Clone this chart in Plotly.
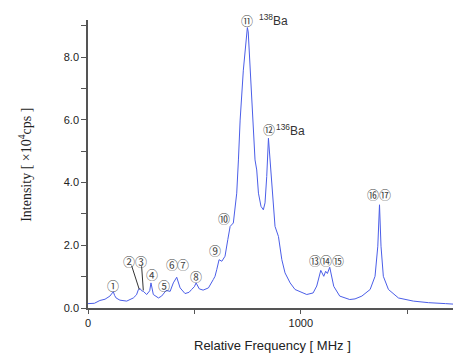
import plotly.graph_objects as go

# Spectrum (MHz, x10^4 cps)
freq = [0, 30, 56, 80, 103, 112, 119, 125, 132, 150, 182, 213, 228, 237, 245, 252, 260, 276,
        290, 296, 302, 307, 331, 346, 358, 367, 386, 401, 417, 425, 433, 456, 475, 487, 500,
        508, 515, 523, 541, 566, 589, 597, 605, 613, 616, 629, 644, 657, 668, 683, 699, 707,
        715, 730, 745, 749, 753, 762, 777, 785, 793, 801, 813, 824, 832, 840, 848, 856, 860,
        866, 879, 895, 911, 926, 950, 973, 1000, 1028, 1058, 1075, 1094, 1108, 1117, 1125,
        1136, 1145, 1155, 1183, 1230, 1255, 1287, 1326, 1349, 1362, 1370, 1377, 1388, 1412,
        1459, 1529, 1600, 1680, 1749]
intensity = [0.14, 0.15, 0.24, 0.28, 0.38, 0.45, 0.52, 0.40, 0.32, 0.25, 0.22, 0.32, 0.42, 0.59,
             0.62, 0.55, 0.53, 0.43, 0.55, 0.80, 0.55, 0.43, 0.32, 0.38, 0.48, 0.56, 0.53, 0.80,
             0.98, 0.80, 0.64, 0.46, 0.50, 0.59, 0.68, 0.80, 0.70, 0.61, 0.57, 0.64, 0.91, 1.01,
             1.22, 1.52, 1.54, 1.49, 1.65, 2.18, 2.60, 2.71, 3.66, 4.72, 5.99, 7.58, 8.85, 8.94,
             8.80, 7.58, 5.99, 4.72, 4.40, 3.66, 3.24, 3.13, 3.35, 4.19, 5.41, 4.72, 4.40, 3.66,
             2.60, 2.28, 1.54, 1.12, 0.80, 0.59, 0.52, 0.43, 0.48, 0.70, 1.20, 1.01, 1.17, 1.10,
             1.30, 1.00, 0.69, 0.38, 0.27, 0.29, 0.38, 0.59, 1.01, 1.97, 3.29, 1.97, 1.01, 0.59,
             0.32, 0.22, 0.17, 0.14, 0.11]

# Peak labels (text, x, y)
label_text = ["①", "②", "③", "④", "⑤", "⑥", "⑦", "⑧", "⑨", "⑩", "⑪", "⑫", "⑬", "⑭", "⑮", "⑯", "⑰"]
label_x = [119, 193, 248, 299, 357, 394, 445, 508, 597, 639, 746, 852, 1067, 1119, 1174, 1341, 1398]
label_y = [0.73, 1.49, 1.49, 1.07, 0.73, 1.38, 1.38, 0.99, 1.84, 2.84, 9.17, 5.68, 1.51, 1.51, 1.51, 3.63, 3.63]

iso_text = ["<sup>138</sup>Ba", "<sup>136</sup>Ba"]
iso_x = [874, 950]
iso_y = [9.17, 5.68]

# leader lines for labels 2 and 3: (x0, y0, x1, y1)
leaders = [(205, 1.35, 241, 0.59), (252, 1.33, 260, 0.56)]

fig = go.Figure()
fig.add_trace(go.Scatter(x=freq, y=intensity, mode="lines",
                         line=dict(color="#4b5ee8", width=1), hoverinfo="skip"))

for t, x, y in zip(label_text, label_x, label_y):
    fig.add_annotation(x=x, y=y, text=t, showarrow=False, xref="x", yref="y",
                       font=dict(family="Noto Sans CJK JP", size=12, color="#444444"))
for t, x, y in zip(iso_text, iso_x, iso_y):
    fig.add_annotation(x=x, y=y, text=t, showarrow=False, xref="x", yref="y",
                       font=dict(family="Liberation Sans", size=12, color="#333333"))
for x0, y0, x1, y1 in leaders:
    fig.add_shape(type="line", x0=x0, y0=y0, x1=x1, y1=y1, xref="x", yref="y",
                  line=dict(color="#333333", width=1))

# axis titles placed as paper annotations
fig.add_annotation(text="Relative Frequency [ MHz ]", xref="paper", yref="paper",
                   x=0.495, y=0, yshift=-37, yanchor="middle", xanchor="center",
                   showarrow=False,
                   font=dict(family="Liberation Sans", size=13, color="#222222"))
fig.add_annotation(text="Intensity [ ×10<sup>4</sup>cps ]", xref="paper", yref="paper",
                   x=0, xshift=-63, y=0.497, yanchor="middle", xanchor="center",
                   textangle=-90, showarrow=False,
                   font=dict(family="Liberation Serif", size=14, color="#222222"))

# page body has an 8px margin, so the figure is sized to fit the 461x353 window
fig.update_layout(
    width=453, height=345,
    margin=dict(l=80, r=0, t=12, b=45, autoexpand=False),
    paper_bgcolor="white", plot_bgcolor="white",
    showlegend=False,
    xaxis=dict(range=[0, 1753], tickvals=[0, 1000], ticktext=["0", "1000"],
               ticks="outside", ticklen=4, tickcolor="#555555", tickwidth=1.3,
               minor=dict(tickvals=[500, 1500], ticks="outside", ticklen=4,
                          tickcolor="#555555", tickwidth=1.3),
               showline=True, linecolor="#555555", linewidth=1.5, showgrid=False,
               zeroline=False, automargin=False,
               tickfont=dict(family="Liberation Sans", size=11, color="#222222")),
    yaxis=dict(range=[0, 9.18], tickvals=[0, 2, 4, 6, 8], tickformat=".1f",
               ticks="outside", ticklen=5, tickcolor="#555555", tickwidth=1.3,
               minor=dict(tickvals=[1, 3, 5, 7, 9], ticks="outside", ticklen=5,
                          tickcolor="#555555", tickwidth=1.3),
               showline=True, linecolor="#555555", linewidth=1.5, showgrid=False,
               zeroline=False, automargin=False,
               tickfont=dict(family="Liberation Sans", size=11, color="#222222")),
)

fig.write_html("out.html")
